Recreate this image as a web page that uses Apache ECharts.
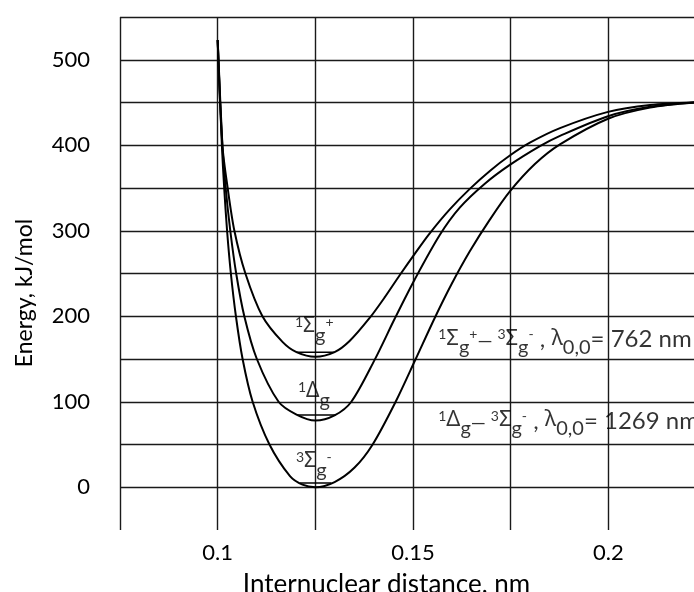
<!DOCTYPE html>
<html><head><meta charset="utf-8">
<script src="https://cdn.jsdelivr.net/npm/echarts@6/dist/echarts.min.js"></script>
<style>html,body{margin:0;padding:0;background:#fff}#c{width:694px;height:592px}</style>
</head><body><div id="c"></div>
<script>
// ---- data (internuclear distance in nm, energy in kJ/mol) ----
const sigmaMinusX = [0.1000,0.10108,0.10167,0.10241,0.10338,0.10467,0.10638,0.10895,0.11326,0.11851,0.12172,0.1250,0.12992,0.13505,0.13967,0.14556,0.15069,0.15556,0.15992,0.16454,0.16967,0.17479,0.18120,0.18762,0.19992,0.21069,0.22197];
const sigmaMinusE = [523,400,350,300,250,200,150,100,50,13,3,0,6,23,50,100,150,198,238,276,313,346,378,401,431,444,450];

const deltaX = [0.1000,0.10121,0.10205,0.10323,0.10474,0.10682,0.11003,0.11559,0.12018,0.1250,0.12992,0.13421,0.14018,0.14531,0.15044,0.15685,0.16197,0.16838,0.17479,0.18249,0.18762,0.19992,0.21069,0.22197];
const deltaE = [523,400,350,300,250,200,150,100,85,78,84,100,149,197,243,295,327,355,377,399,411,434,445,450];

const sigmaPlusX = [0.1000,0.10121,0.10256,0.10428,0.10710,0.11146,0.11659,0.12018,0.1250,0.12992,0.13377,0.13890,0.14274,0.14659,0.15044,0.15428,0.15941,0.16454,0.16967,0.17479,0.17992,0.18762,0.19992,0.21069,0.22197];
const sigmaPlusE = [523,400,350,300,250,200,170,158,152.5,158,171,198,222,248,273,297,325,349,370,388,403,420,439,447,450];

// v=0 vibrational levels
const levelE     = [5, 84.5, 158];
const levelLeft  = [0.1211, 0.1203, 0.1202];
const levelRight = [0.1291, 0.1302, 0.1299];

const xLabelValues = [0.1, 0.15, 0.2];
const yLabelValues = [0, 100, 200, 300, 400, 500];

// ---- text annotations ----
const stateLabels = [
  {text: '{sup|1}{G|Σ}{sub|g}{sup|+}', at: [0.11992, 200.3]},
  {text: '{sup|1}{G|Δ}{sub|g}', at: [0.12069, 124.3]},
  {text: '{sup|3}{G|Σ}{sub|g}{sup|-}', at: [0.12018, 42.4]}
];
const transitionLabels = [
  {text: '{sup|1}{G|Σ}{sub|g}{sup|+}{dash|— }{sup|3}{G|Σ}{sub|g}{sup|-}{m| , }{G|λ}{sub|0,0}{m|= 762 nm}', at: [0.15659, 186.3]},
  {text: '{sup|1}{G|Δ}{sub|g}{dash|— }{sup|3}{G|Σ}{sub|g}{sup|-}{m| , }{G|λ}{sub|0,0}{m|= 1269 nm}', at: [0.15659, 90.9]}
];

const FONT = "Lato, 'Noto Sans', sans-serif";
const GREEK = "'Noto Sans', 'DejaVu Sans', sans-serif";

function pairs(xs, ys) { return xs.map((x, i) => [x, ys[i]]); }
function near(v, list) { return list.some(t => Math.abs(v - t) < 1e-6); }

function richSet(main, greek) {
  return {
    m:    {fontSize: main, lineHeight: main, verticalAlign: 'top', fontFamily: FONT, color: '#000'},
    G:    {fontSize: greek, lineHeight: main, verticalAlign: 'top', fontFamily: GREEK, color: '#000'},
    dash: {fontSize: 19, lineHeight: main, verticalAlign: 'top', fontFamily: FONT, color: '#000', padding: [4, 0, 0, 0]},
    sup:  {fontSize: 14, lineHeight: 14, verticalAlign: 'top', fontFamily: FONT, color: '#000'},
    sub:  {fontSize: 20, lineHeight: 20, verticalAlign: 'top', fontFamily: FONT, color: '#000', padding: [10, 0, 0, 0]}
  };
}

const curveStyle = {color: '#000', width: 2};
const gridLine = {color: '#1a1a1a', width: 1.4};

const series = [
  {name: 'X3Σg-', type: 'line', data: pairs(sigmaMinusX, sigmaMinusE), smooth: 0.3, showSymbol: false, lineStyle: curveStyle, z: 3},
  {name: 'a1Δg', type: 'line', data: pairs(deltaX, deltaE), smooth: 0.3, showSymbol: false, lineStyle: curveStyle, z: 3},
  {name: 'b1Σg+', type: 'line', data: pairs(sigmaPlusX, sigmaPlusE), smooth: 0.3, showSymbol: false, lineStyle: curveStyle, z: 3}
];
levelE.forEach((e, i) => {
  series.push({type: 'line', data: [[levelLeft[i], e], [levelRight[i], e]], showSymbol: false,
    lineStyle: {color: '#000', width: 1.5}, z: 3});
});
function labelSeries(l, rich) {
  return {type: 'scatter', data: [l.at], symbolSize: 1, itemStyle: {color: 'rgba(0,0,0,0)'}, silent: true, z: 5,
    label: {show: true, position: [0, 0], align: 'left', verticalAlign: 'top', formatter: l.text, rich: rich}};
}
stateLabels.forEach(l => series.push(labelSeries(l, richSet(21, 21))));
transitionLabels.forEach(l => series.push(labelSeries(l, richSet(24, 22))));

const chart = echarts.init(document.getElementById('c'), null, {renderer: 'canvas'});
chart.setOption({
  animation: false,
  backgroundColor: '#fff',
  grid: {left: 120, right: -12, top: 17, bottom: 62, containLabel: false, outerBoundsMode: 'none'},
  xAxis: {
    type: 'value', min: 0.075, max: 0.225, interval: 0.025,
    axisLine: {show: false}, axisTick: {show: false},
    splitLine: {show: true, lineStyle: gridLine},
    axisLabel: {margin: 12, fontSize: 22, color: '#000', fontFamily: FONT,
      formatter: v => near(v, xLabelValues) ? String(+v.toFixed(3)) : ''},
    name: 'Internuclear distance, nm', nameLocation: 'middle', nameGap: 42,
    nameTextStyle: {fontSize: 26, color: '#000', fontFamily: FONT, padding: [0, 53, 0, 0]}
  },
  yAxis: {
    type: 'value', min: -50, max: 550, interval: 50,
    axisLine: {show: false}, axisTick: {show: false},
    splitLine: {show: true, showMinLine: false, lineStyle: gridLine},
    axisLabel: {margin: 30, fontSize: 22, color: '#000', fontFamily: FONT,
      formatter: v => near(v, yLabelValues) ? String(v) : ''},
    name: 'Energy, kJ/mol', nameLocation: 'middle', nameGap: 84,
    nameTextStyle: {fontSize: 23, color: '#000', fontFamily: FONT, padding: [0, 39, 0, 0]}
  },
  series: series
});
</script>
</body></html>
